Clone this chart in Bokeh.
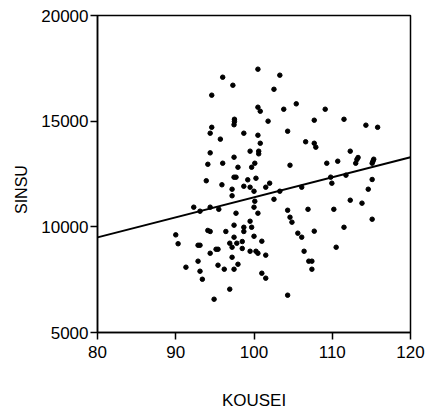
from bokeh.plotting import figure
from bokeh.models import Range1d, FixedTicker, ColumnDataSource
from bokeh.embed import file_html
from bokeh.resources import INLINE

# KOUSEI (x) and SINSU (y) values
kousei = [96.0, 97.3, 94.6, 97.5, 97.5, 97.45, 94.6, 94.4, 98.7, 95.7,
          94.4, 97.45, 94.1, 96.0, 97.95, 97.45, 97.7, 93.9, 95.9, 97.2,
          97.2, 98.7, 92.3, 93.1, 94.4, 95.5, 97.7, 90.0, 90.3, 94.1,
          94.4, 96.4, 97.45, 98.7, 98.7, 97.45, 96.9, 97.8, 98.5, 97.2,
          98.5, 92.85, 93.1, 95.15, 95.4, 94.4, 97.2, 92.85, 95.4, 97.95,
          91.3, 96.2, 97.45, 93.1, 93.4, 96.9, 94.9,
          100.5, 103.3, 102.55, 105.4, 100.5, 100.8, 103.8, 109.1, 101.8, 107.7,
          104.3, 100.5, 106.6, 107.7, 107.9, 100.8, 99.5, 100.6, 100.6, 100.1,
          99.7, 104.6, 99.2, 100.25, 102.0,
          99.5, 100.0, 101.5, 103.3, 106.1, 100.1, 102.55, 100.0, 100.5, 104.3,
          106.9, 104.6, 104.85, 99.5, 99.7, 107.7, 105.6, 106.1, 100.0, 101.0,
          99.5, 100.25, 100.5, 101.5, 106.4, 107.0, 107.4, 107.4, 101.0, 101.5,
          104.3,
          111.5, 114.3, 115.8, 112.3, 113.3, 113.15, 113.0, 110.7, 109.3, 115.3,
          115.2, 115.1, 109.8, 111.75, 109.95, 115.1,
          114.6, 112.3, 113.8, 110.2, 115.1, 111.5, 110.5]

sinsu = [17080, 16700, 16230, 15090, 14980, 14830, 14710, 14430, 14430, 14150,
         13500, 13295, 12960, 13010, 12820, 12350, 12350, 12180, 11990, 11780,
         11470, 11920, 10930, 10740, 10930, 10830, 10645, 9620, 9200, 9830,
         9780, 9780, 10080, 9980, 9780, 9510, 9225, 9225, 9305, 9035,
         8975, 9130, 9130, 8940, 8940, 8750, 8560, 8375, 8185, 8230,
         8090, 7995, 7995, 7900, 7520, 7050, 6575,
         17460, 17175, 16510, 15820, 15660, 15470, 15565, 15565, 15000, 15045,
         14525, 14335, 14025, 13955, 13770, 13955, 13580, 13580, 13455, 13010,
         12820, 12915, 12225, 12300, 12065,
         11875, 11685, 11875, 11685, 11875, 11210, 11305, 10930, 10645, 10785,
         10830, 10455, 10220, 10265, 9980, 9795, 9700, 9510, 9555, 9320,
         8845, 8845, 8750, 8660, 8845, 8375, 8375, 7995, 7805, 7570,
         6765,
         15090, 14810, 14710, 13580, 13280, 13185, 13010, 13105, 13010, 13200,
         13105, 13010, 12350, 12445, 12065, 12240,
         11780, 11260, 11120, 10830, 10360, 9980, 9035]

# fitted regression line end points
fit_x = [80, 120]
fit_y = [9500, 13290]

x_ticks = [80, 90, 100, 110, 120]
y_ticks = [5000, 10000, 15000, 20000]

FONT = "Liberation Sans"

p = figure(width=427, height=412, output_backend="svg", toolbar_location=None,
           x_range=Range1d(80, 120), y_range=Range1d(5000, 20000),
           min_border_left=97, min_border_right=17, min_border_top=15,
           min_border_bottom=80)

p.xgrid.visible = False
p.ygrid.visible = False
p.background_fill_color = "white"
p.border_fill_color = "white"
p.outline_line_color = "black"
p.outline_line_width = 1.5
p.outline_line_alpha = 1.0

for ax, ticks in ((p.xaxis[0], x_ticks), (p.yaxis[0], y_ticks)):
    ax.ticker = FixedTicker(ticks=ticks)
    ax.minor_tick_line_color = None
    ax.major_tick_in = 0
    ax.major_tick_out = 7
    ax.major_tick_line_width = 1.5
    ax.major_tick_line_color = "black"
    ax.axis_line_width = 1.5
    ax.axis_line_color = "black"
    ax.major_label_text_font = FONT
    ax.major_label_text_font_size = "17px"
    ax.major_label_text_color = "black"
    ax.axis_label_text_font = FONT
    ax.axis_label_text_font_style = "normal"
    ax.axis_label_text_color = "black"

p.xaxis.major_label_standoff = 6
p.yaxis.major_label_standoff = 2

p.xaxis.axis_label = "KOUSEI"
p.xaxis.axis_label_text_font_size = "17px"
p.xaxis.axis_label_standoff = 30

# trailing no-break spaces nudge the rotated label down as in the reference
p.yaxis.axis_label = "SINSU" + "\u00a0" * 7
p.yaxis.axis_label_text_font_size = "16px"
p.yaxis.axis_label_standoff = 8

src = ColumnDataSource(dict(x=kousei, y=sinsu))
p.scatter("x", "y", source=src, size=4.5, color="black")
p.line(fit_x, fit_y, line_color="black", line_width=2)

open("out.html", "w").write(file_html(p, INLINE))
